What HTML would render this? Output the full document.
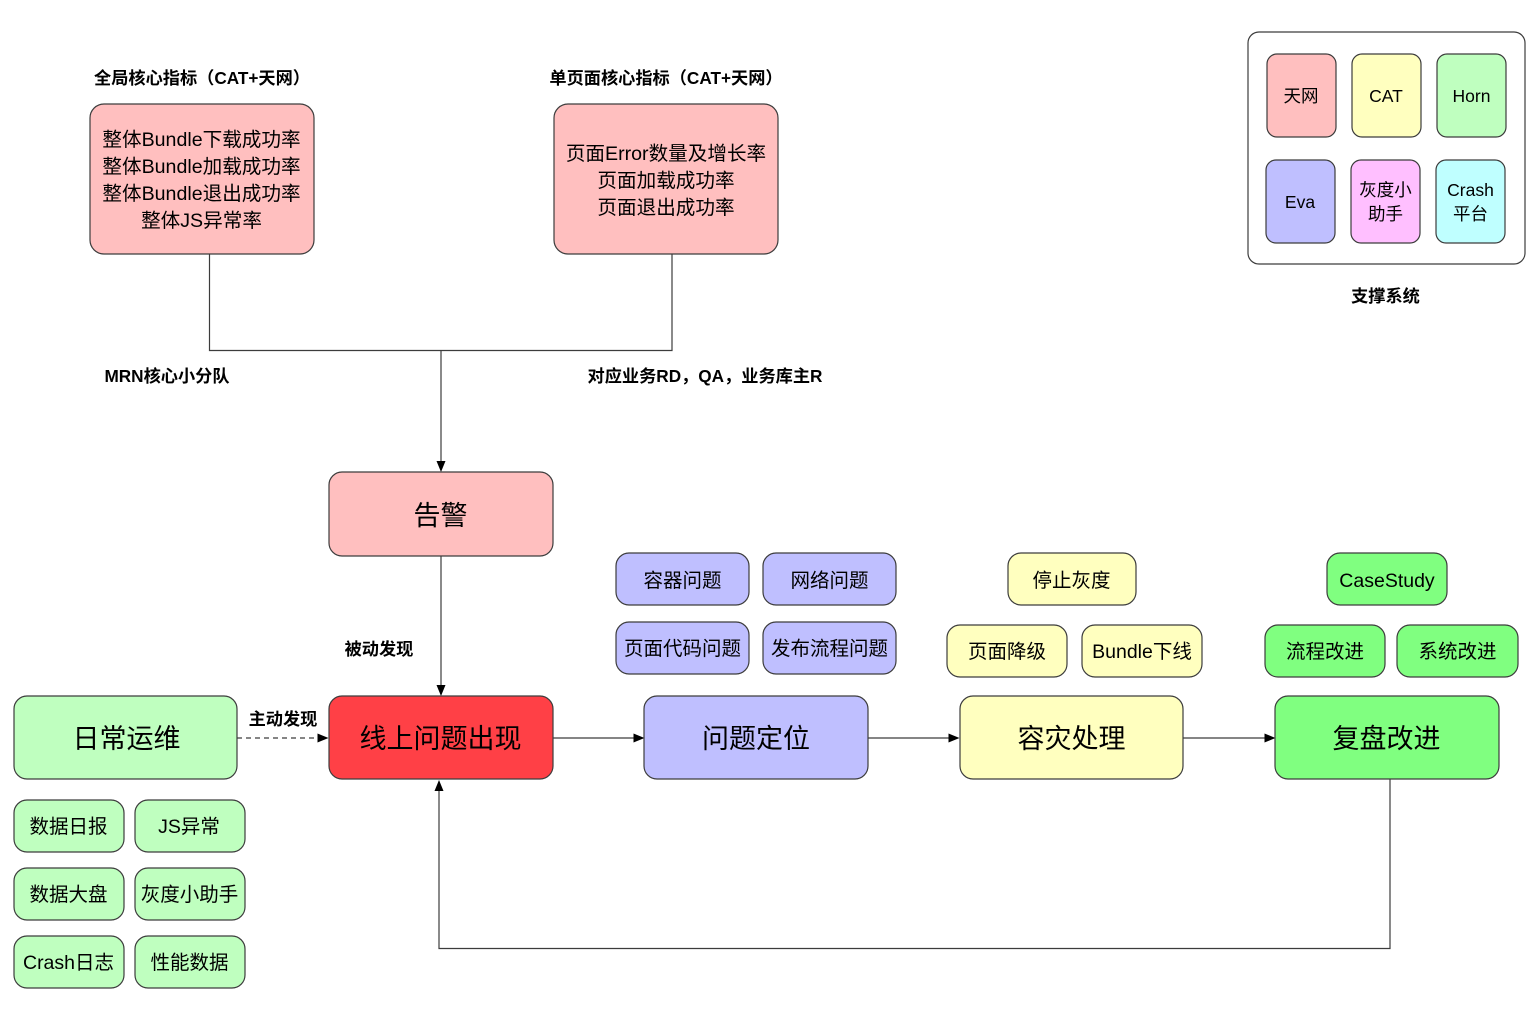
<!DOCTYPE html>
<html><head><meta charset="utf-8"><style>
html,body{margin:0;padding:0;background:#fff}
svg{display:block}
text{font-family:"Liberation Sans","Noto Sans CJK SC",sans-serif;text-anchor:middle;fill:#000}
.b{stroke:#3c3c3c;stroke-width:1.2}
.l{stroke:#3c3c3c;stroke-width:1.2;fill:none}
.a{fill:#000;stroke:none}
.x{font-size:27px}
.m{font-size:19.5px}
.s{font-size:17.5px}
.t{font-size:17.2px;font-weight:bold}
.t2{font-size:19.6px}
</style></head><body>
<svg width="1536" height="1014" viewBox="0 0 1536 1014" xmlns="http://www.w3.org/2000/svg">
<rect width="1536" height="1014" fill="#fff"/>
<!-- connectors -->
<path class="l" d="M209.500 254V350.500H672V254"/>
<path class="l" d="M441 351V463"/><path class="a" d="M436.500 461H445.500L441 472Z"/>
<path class="l" d="M441 556V687"/><path class="a" d="M436.500 685H445.500L441 696Z"/>
<path class="l" d="M237 738H319" stroke-dasharray="5 4"/><path class="a" d="M317.500 733.500V742.500L328.500 738Z"/>
<path class="l" d="M553 738H635"/><path class="a" d="M633.500 733.500V742.500L644.500 738Z"/>
<path class="l" d="M868 738H950"/><path class="a" d="M948.500 733.500V742.500L959.500 738Z"/>
<path class="l" d="M1183 738H1266"/><path class="a" d="M1264.500 733.500V742.500L1275.500 738Z"/>
<path class="l" d="M1390 779V948.500H439V790"/><path class="a" d="M434.500 791H443.500L439 780Z"/>
<!-- support box -->
<rect class="b" x="1248" y="32" width="277" height="232" rx="11" fill="#fff"/>
<rect class="b" x="1267" y="54" width="69" height="83" rx="10" fill="#ffbfbf"/>
<rect class="b" x="1352" y="54" width="69" height="83" rx="10" fill="#ffffbf"/>
<rect class="b" x="1437" y="54" width="69" height="83" rx="10" fill="#bfffbf"/>
<rect class="b" x="1266" y="160" width="69" height="83" rx="10" fill="#bfbfff"/>
<rect class="b" x="1351" y="160" width="69" height="83" rx="10" fill="#ffbfff"/>
<rect class="b" x="1436" y="160" width="69" height="83" rx="10" fill="#bfffff"/>
<text class="s" x="1301" y="102">天网</text>
<text class="s" x="1386" y="102">CAT</text>
<text class="s" x="1471.500" y="102">Horn</text>
<text class="s" x="1300" y="208">Eva</text>
<text class="s" x="1385.500" y="196">灰度小</text>
<text class="s" x="1385.500" y="220">助手</text>
<text class="s" x="1470.500" y="196">Crash</text>
<text class="s" x="1470.500" y="220">平台</text>
<text class="t" x="1385.500" y="302">支撑系统</text>
<!-- top boxes -->
<text class="t" x="202" y="84">全局核心指标（CAT+天网）</text>
<text class="t" x="666" y="84">单页面核心指标（CAT+天网）</text>
<rect class="b" x="90" y="104" width="224" height="150" rx="14" fill="#ffbfbf"/>
<rect class="b" x="554" y="104" width="224" height="150" rx="14" fill="#ffbfbf"/>
<text class="t2" x="201.500" y="146">整体Bundle下载成功率</text>
<text class="t2" x="201.500" y="173">整体Bundle加载成功率</text>
<text class="t2" x="201.500" y="200">整体Bundle退出成功率</text>
<text class="t2" x="201.500" y="227">整体JS异常率</text>
<text class="t2" x="666" y="160">页面Error数量及增长率</text>
<text class="t2" x="666" y="187">页面加载成功率</text>
<text class="t2" x="666" y="214">页面退出成功率</text>
<text class="t" x="167" y="382">MRN核心小分队</text>
<text class="t" x="705" y="382">对应业务RD，QA，业务库主R</text>
<!-- alarm -->
<rect class="b" x="329" y="472" width="224" height="84" rx="13" fill="#ffbfbf"/>
<text class="x" x="440.500" y="525">告警</text>
<text class="t" x="379" y="655">被动发现</text>
<text class="t" x="283" y="725">主动发现</text>
<!-- main row -->
<rect class="b" x="14" y="696" width="223" height="83" rx="13" fill="#bfffbf"/>
<rect class="b" x="329" y="696" width="224" height="83" rx="13" fill="#ff4046"/>
<rect class="b" x="644" y="696" width="224" height="83" rx="13" fill="#bfbfff"/>
<rect class="b" x="960" y="696" width="223" height="83" rx="13" fill="#ffffbf"/>
<rect class="b" x="1275" y="696" width="224" height="83" rx="13" fill="#80ff80"/>
<text class="x" x="126.500" y="748">日常运维</text>
<text class="x" x="440.500" y="748">线上问题出现</text>
<text class="x" x="756" y="748">问题定位</text>
<text class="x" x="1071.500" y="748">容灾处理</text>
<text class="x" x="1386.500" y="748">复盘改进</text>
<!-- blue -->
<rect class="b" x="616" y="553" width="133" height="52" rx="13" fill="#bfbfff"/>
<rect class="b" x="763" y="553" width="133" height="52" rx="13" fill="#bfbfff"/>
<rect class="b" x="616" y="622" width="133" height="52" rx="13" fill="#bfbfff"/>
<rect class="b" x="763" y="622" width="133" height="52" rx="13" fill="#bfbfff"/>
<text class="m" x="682.500" y="587">容器问题</text>
<text class="m" x="829.500" y="587">网络问题</text>
<text class="m" x="682.500" y="655">页面代码问题</text>
<text class="m" x="829.500" y="655">发布流程问题</text>
<!-- yellow -->
<rect class="b" x="1008" y="553" width="128" height="52" rx="13" fill="#ffffbf"/>
<rect class="b" x="947" y="625" width="120" height="52" rx="13" fill="#ffffbf"/>
<rect class="b" x="1082" y="625" width="120" height="52" rx="13" fill="#ffffbf"/>
<text class="m" x="1071.500" y="587">停止灰度</text>
<text class="m" x="1007" y="658">页面降级</text>
<text class="m" x="1142" y="658">Bundle下线</text>
<!-- green -->
<rect class="b" x="1327" y="553" width="120" height="52" rx="13" fill="#80ff80"/>
<rect class="b" x="1265" y="625" width="120" height="52" rx="13" fill="#80ff80"/>
<rect class="b" x="1397" y="625" width="121" height="52" rx="13" fill="#80ff80"/>
<text class="m" x="1387" y="587">CaseStudy</text>
<text class="m" x="1325" y="658">流程改进</text>
<text class="m" x="1457.500" y="658">系统改进</text>
<!-- daily -->
<rect class="b" x="14" y="800" width="110" height="52" rx="13" fill="#bfffbf"/>
<rect class="b" x="135" y="800" width="110" height="52" rx="13" fill="#bfffbf"/>
<rect class="b" x="14" y="868" width="110" height="52" rx="13" fill="#bfffbf"/>
<rect class="b" x="135" y="868" width="110" height="52" rx="13" fill="#bfffbf"/>
<rect class="b" x="14" y="936" width="110" height="52" rx="13" fill="#bfffbf"/>
<rect class="b" x="135" y="936" width="110" height="52" rx="13" fill="#bfffbf"/>
<text class="m" x="68.500" y="833">数据日报</text>
<text class="m" x="189" y="833">JS异常</text>
<text class="m" x="68.500" y="901">数据大盘</text>
<text class="m" x="189.500" y="901">灰度小助手</text>
<text class="m" x="68.500" y="969">Crash日志</text>
<text class="m" x="189.500" y="969">性能数据</text>
</svg>
</body></html>
